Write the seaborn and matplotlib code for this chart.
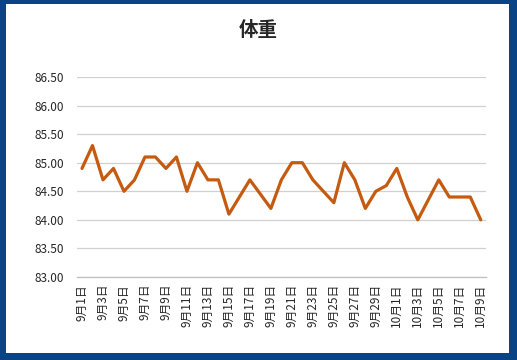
import numpy as np
import pandas as pd
import seaborn as sns
import matplotlib.pyplot as plt
from matplotlib.patches import Rectangle

# data
dates = ['9月%d日' % d for d in range(1, 31)] + ['10月%d日' % d for d in range(1, 10)]
weight = [84.9, 85.3, 84.7, 84.9, 84.5, 84.7, 85.1, 85.1, 84.9, 85.1,
          84.5, 85.0, 84.7, 84.7, 84.1, 84.4, 84.7, 84.45, 84.2, 84.7,
          85.0, 85.0, 84.7, 84.5, 84.3, 85.0, 84.7, 84.2, 84.5, 84.6,
          84.9, 84.4, 84.0, 84.35, 84.7, 84.4, 84.4, 84.4, 84.0]
yticks = [83.0, 83.5, 84.0, 84.5, 85.0, 85.5, 86.0, 86.5]

sns.set_style("white")
plt.rcParams['font.family'] = ['Noto Sans CJK JP', 'DejaVu Sans']

df = pd.DataFrame({'pos': np.arange(len(dates)), 'date': dates, 'weight': weight})

W, H = 517, 360
fig = plt.figure(figsize=(W / 100, H / 100), dpi=100)
ax = fig.add_axes([76.75 / W, 1 - 277 / H, (486 - 76.75) / W, 200 / H])

sns.lineplot(data=df, x='pos', y='weight', ax=ax, color='#C55A11', linewidth=2.3)

ax.set_ylim(83.0, 86.5)
ax.set_yticks(yticks)
ax.set_yticklabels(['%.2f' % v for v in yticks], fontsize=8.5, color='#262626')
ax.yaxis.grid(True, color='#D0D0D0', linewidth=0.9)
ax.set_axisbelow(True)

ax.set_xlim(-0.5, len(dates) - 0.5)
ax.set_xticks(df['pos'][::2])
ax.set_xticklabels(df['date'][::2], rotation=90, fontsize=8.5, color='#262626')
ax.set_xticks(np.arange(-0.5, len(dates), 2), minor=True)
ax.tick_params(axis='x', which='major', length=0, pad=5)
ax.tick_params(axis='x', which='minor', length=4, color='#BFBFBF', width=0.8)
ax.tick_params(axis='y', length=0, pad=9)

for s in ['top', 'right', 'left']:
    ax.spines[s].set_visible(False)
ax.spines['bottom'].set_color('#BFBFBF')
ax.spines['bottom'].set_linewidth(0.9)
ax.set_xlabel('')
ax.set_ylabel('')

fig.text(0.5, 1 - 30 / H, '体重', ha='center', va='center', fontsize=14, fontweight='bold')

# dark blue frame
blue = '#0B4387'
for x0, y0, w, h in [(0, 0, 6, H), (W - 8, 0, 8, H), (0, H - 4, W, 4), (0, 0, W, 7)]:
    fig.patches.append(Rectangle((x0 / W, y0 / H), w / W, h / H, transform=fig.transFigure,
                                 facecolor=blue, edgecolor='none'))

fig.savefig('out.png', dpi=100)
